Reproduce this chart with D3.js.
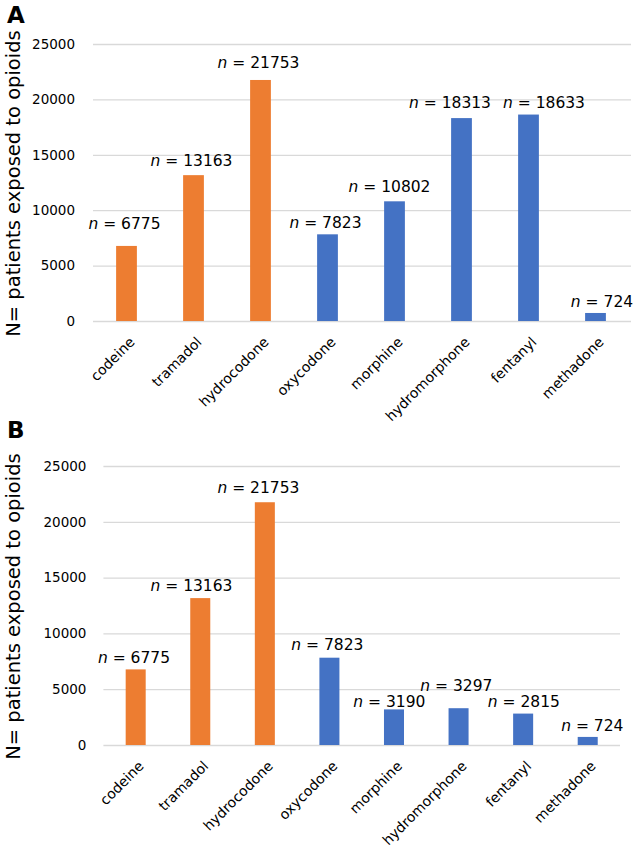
<!DOCTYPE html>
<html>
<head>
<meta charset="utf-8">
<script src="https://cdn.jsdelivr.net/npm/d3@7"></script>
<style>
  html, body { margin: 0; padding: 0; background: #ffffff; }
  svg { display: block; font-family: "DejaVu Sans", Verdana, sans-serif; }
</style>
</head>
<body>
<svg id="chart" width="633" height="852"></svg>
<script>
// ---- data ----
const categories = ["codeine", "tramadol", "hydrocodone", "oxycodone", "morphine", "hydromorphone", "fentanyl", "methadone"];
const groups = ["weak", "weak", "weak", "strong", "strong", "strong", "strong", "strong"];
const valuesA = [6775, 13163, 21753, 7823, 10802, 18313, 18633, 724];
const valuesB = [6775, 13163, 21753, 7823, 3190, 3297, 2815, 724];
const yTicks = [0, 5000, 10000, 15000, 20000, 25000];
const panelLetters = ["A", "B"];
const yTitle = "N= patients exposed to opioids";

// ---- layout (label nudges, as placed in the original) ----
const labelDxA = [-2, -2, -2, -2, -5, -11.5, 15.5, 6.5];
const labelGapA = [17, 9, 12, 6, 9, 10, 6.6, 6];
const labelDxB = [-1.7, -8.8, -6.4, -2, -4.6, -2.2, 0.7, 4.6];
const labelGapB = [6.4, 7, 9, 7.7, 2.4, 17.5, 6.6, 6];

const colors = { weak: "#ED7D31", strong: "#4472C4" };
const svg = d3.select("#chart");

function panel(cfg) {
  const g = svg.append("g");
  const x = d3.scaleBand().domain(categories).range([cfg.x0, cfg.x1])
    .paddingInner(0.69).paddingOuter(0.345);
  const y = d3.scaleLinear().domain([0, 25000]).range([cfg.yBottom, cfg.yTop]);

  // gridlines + y tick labels
  const yAxis = g.append("g").attr("transform", `translate(${cfg.x0},0)`)
    .call(d3.axisLeft(y).tickValues(yTicks).tickFormat(d3.format("d"))
      .tickSize(-(cfg.gridEnd - cfg.x0)).tickPadding(cfg.tickPad));
  yAxis.select(".domain").remove();
  yAxis.selectAll(".tick line").attr("stroke", "#d9d9d9").attr("stroke-width", 1.3);
  yAxis.selectAll(".tick text").attr("fill", "#000").attr("font-size", 13.5)
    .attr("font-family", "DejaVu Sans, sans-serif");

  // bars
  g.selectAll("rect.bar").data(cfg.values).join("rect")
    .attr("class", "bar")
    .attr("x", (d, i) => x(categories[i]))
    .attr("width", x.bandwidth())
    .attr("y", d => y(d))
    .attr("height", d => y(0) - y(d))
    .attr("fill", (d, i) => colors[groups[i]]);

  // value labels
  const lab = g.selectAll("text.val").data(cfg.values).join("text")
    .attr("class", "val")
    .attr("x", (d, i) => x(categories[i]) + x.bandwidth() / 2 + cfg.dx[i])
    .attr("y", (d, i) => y(d) - cfg.gap[i])
    .attr("text-anchor", "middle")
    .attr("font-size", 15.5)
    .attr("fill", "#000");
  lab.append("tspan").attr("font-style", "italic").text("n");
  lab.append("tspan").text(d => " = " + d);

  // category axis (labels rotated -45°)
  const xAxis = g.append("g").attr("transform", `translate(0,${cfg.yBottom})`)
    .call(d3.axisBottom(x).tickSize(0).tickPadding(0));
  xAxis.select(".domain").remove();
  xAxis.selectAll(".tick text")
    .attr("y", 0).attr("dy", 0)
    .attr("text-anchor", "end")
    .attr("transform", "translate(9,22) rotate(-45)")
    .attr("font-size", 14)
    .attr("font-family", "DejaVu Sans, sans-serif")
    .attr("fill", "#000");

  // y title
  svg.append("text")
    .attr("transform", `translate(20,${(cfg.yTop + cfg.yBottom) / 2 + 1}) rotate(-90)`)
    .attr("text-anchor", "middle")
    .attr("font-size", 19.5)
    .attr("fill", "#000")
    .text(yTitle);

  // panel letter
  svg.append("text")
    .attr("x", 7).attr("y", cfg.letterY)
    .attr("font-size", 23).attr("font-weight", "bold")
    .attr("fill", "#000")
    .text(cfg.letter);
}

panel({ letter: panelLetters[0], letterY: 23, values: valuesA, dx: labelDxA, gap: labelGapA,
        x0: 93, x1: 629, gridEnd: 631, yTop: 44, yBottom: 321, tickPad: 18 });
panel({ letter: panelLetters[1], letterY: 438, values: valuesB, dx: labelDxB, gap: labelGapB,
        x0: 103.4, x1: 620, gridEnd: 620, yTop: 466, yBottom: 745, tickPad: 17 });
</script>
</body>
</html>
